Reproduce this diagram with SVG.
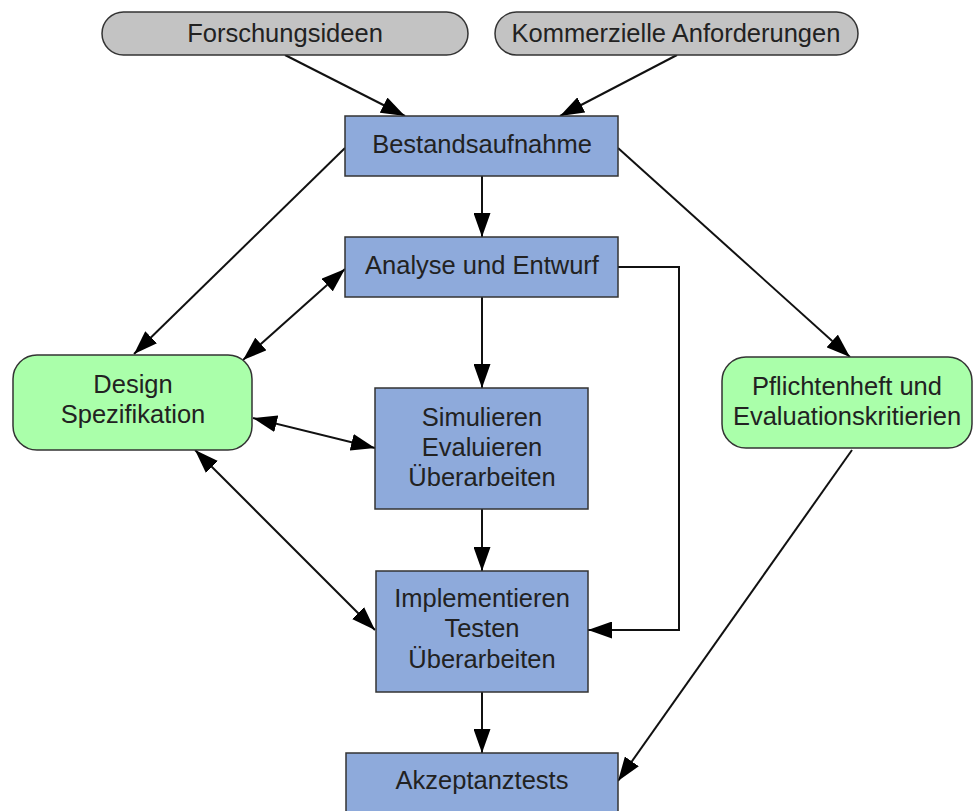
<svg xmlns="http://www.w3.org/2000/svg" width="973" height="811" viewBox="0 0 973 811">
  <style>
    text { font-family: "Liberation Sans", Arial, sans-serif; font-size: 25.5px; fill: #222; text-anchor: middle; }
    .source { fill: #c3c3c3; stroke: #333; stroke-width: 1.5; }
    .step { fill: #8eaadb; stroke: #333; stroke-width: 1.5; }
    .doc { fill: #aaffaa; stroke: #333; stroke-width: 1.5; }
    .edge { fill: none; stroke: #111; stroke-width: 2; }
  </style>
  <defs>
    <marker id="arrow" viewBox="0 0 24 17" markerWidth="24" markerHeight="17" refX="24" refY="8.5" orient="auto-start-reverse" markerUnits="userSpaceOnUse">
      <path d="M0,0 L24,8.5 L0,17 z" fill="#000"/>
    </marker>
  </defs>

  <rect width="973" height="811" fill="#fff"/>

  <!-- connectors -->
  <g id="connectors">
    <line class="edge" x1="285" y1="55" x2="405" y2="116" marker-end="url(#arrow)"/>
    <line class="edge" x1="677" y1="55" x2="560" y2="116" marker-end="url(#arrow)"/>
    <line class="edge" x1="482" y1="176" x2="482" y2="237" marker-end="url(#arrow)"/>
    <line class="edge" x1="345" y1="148" x2="134" y2="354" marker-end="url(#arrow)"/>
    <line class="edge" x1="618" y1="148" x2="850" y2="357" marker-end="url(#arrow)"/>
    <line class="edge" x1="345" y1="269" x2="243" y2="360" marker-start="url(#arrow)" marker-end="url(#arrow)"/>
    <polyline class="edge" points="618,267 679,267 679,630 588,630" marker-end="url(#arrow)"/>
    <line class="edge" x1="482" y1="297" x2="482" y2="388" marker-end="url(#arrow)"/>
    <line class="edge" x1="253" y1="418" x2="375" y2="448" marker-start="url(#arrow)" marker-end="url(#arrow)"/>
    <line class="edge" x1="195" y1="450" x2="375" y2="630" marker-start="url(#arrow)" marker-end="url(#arrow)"/>
    <line class="edge" x1="482" y1="509" x2="482" y2="571" marker-end="url(#arrow)"/>
    <line class="edge" x1="482" y1="692" x2="482" y2="753" marker-end="url(#arrow)"/>
    <line class="edge" x1="852" y1="450" x2="618" y2="781" marker-end="url(#arrow)"/>
  </g>

  <!-- inputs -->
  <g id="forschungsideen">
    <rect class="source" x="102" y="12" width="366" height="43" rx="21.5"/>
    <text x="285" y="42">Forschungsideen</text>
  </g>
  <g id="kommerzielle-anforderungen">
    <rect class="source" x="495" y="12" width="363" height="43" rx="21.5"/>
    <text x="676" y="42">Kommerzielle Anforderungen</text>
  </g>

  <!-- process steps -->
  <g id="bestandsaufnahme">
    <rect class="step" x="345" y="116" width="273" height="60"/>
    <text x="482" y="153">Bestandsaufnahme</text>
  </g>
  <g id="analyse-entwurf">
    <rect class="step" x="345" y="237" width="273" height="60"/>
    <text x="482" y="274">Analyse und Entwurf</text>
  </g>
  <g id="simulieren">
    <rect class="step" x="375" y="388" width="213" height="121"/>
    <text x="482" y="426">Simulieren</text>
    <text x="482" y="456">Evaluieren</text>
    <text x="482" y="486">Überarbeiten</text>
  </g>
  <g id="implementieren">
    <rect class="step" x="376" y="571" width="212" height="121"/>
    <text x="482" y="607">Implementieren</text>
    <text x="482" y="637">Testen</text>
    <text x="482" y="668">Überarbeiten</text>
  </g>
  <g id="akzeptanztests">
    <rect class="step" x="346" y="753" width="272" height="70"/>
    <text x="482" y="789">Akzeptanztests</text>
  </g>

  <!-- documents -->
  <g id="design-spezifikation">
    <rect class="doc" x="13" y="355" width="239" height="95" rx="24"/>
    <text x="133" y="393">Design</text>
    <text x="133" y="423">Spezifikation</text>
  </g>
  <g id="pflichtenheft">
    <rect class="doc" x="722" y="357" width="250" height="91" rx="24"/>
    <text x="847" y="395">Pflichtenheft und</text>
    <text x="847" y="425">Evaluationskritierien</text>
  </g>
</svg>
